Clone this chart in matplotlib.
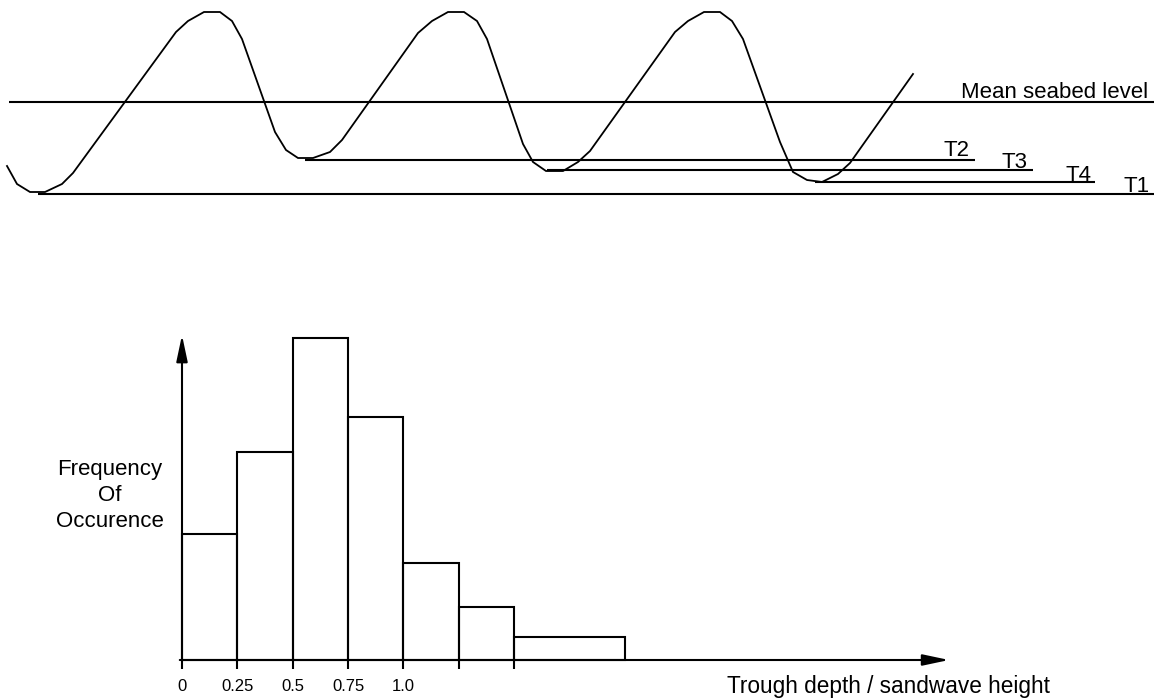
"""Sandwave trough depths: profile sketch and histogram of trough depth / sandwave height."""

import matplotlib
matplotlib.use("Agg")
import matplotlib.pyplot as plt

plt.rcParams["font.family"] = ["Liberation Sans", "DejaVu Sans"]

# --- profile data (distance along section, elevation relative to mean seabed) ---
profile_x = [7, 17, 30, 45, 62, 73, 176, 188, 204, 220, 232, 242, 275, 286, 298, 313,
             330, 342, 418, 432, 448, 464, 477, 487, 523, 533, 546, 563, 578, 590, 675,
             688, 704, 720, 732, 743, 780, 793, 807, 822, 838, 850, 913]
profile_z = [-64, -82, -90, -90, -82, -71, 70, 81, 90, 90, 81, 63, -30, -48, -56, -56,
             -50, -38, 69, 81, 90, 90, 81, 63, -42, -60, -69, -69, -60, -49, 70,
             81, 90, 90, 81, 63, -40, -70, -78, -80, -72, -61, 28]

level_names = ["Mean seabed level", "T2", "T3", "T4", "T1"]
level_z = [0, -58, -68, -80, -92]
level_x0 = [9, 305, 547, 815, 38]
level_x1 = [1154, 975, 1033, 1095, 1154]
label_x = [1148, 970, 1028, 1092, 1150]
label_z = [4, -54, -66, -79, -90]

# --- histogram data ---
bin_edges = [0, 0.25, 0.5, 0.75, 1.0, 1.25, 1.5, 2.0]
frequency = [39, 64.5, 100, 75.5, 30, 16.5, 7]
tick_labels = ["0", "0.25", "0.5", "0.75", "1.0", "", ""]

W, H = 1154, 699
fig = plt.figure(figsize=(W / 100, H / 100), dpi=100)

# top: profile sketch, one unit = one pixel
ax1 = fig.add_axes([0, 0, 1, 1])
ax1.set_xlim(0, W)
ax1.set_ylim(102 - H, 102)
ax1.axis("off")
ax1.plot(profile_x, profile_z, color="black", lw=1.3, solid_joinstyle="miter")
ax1.hlines(level_z, level_x0, level_x1, color="black", lw=1.5)
for name, x, z in zip(level_names, label_x, label_z):
    ax1.text(x, z, name, ha="right", va="baseline", fontsize=16)

# bottom: histogram
px_per_unit = 221.5
px_per_freq = 3.22
x0_px, y0_px = 182, 660
ax2 = fig.add_axes([0, 0, 1, 1])
ax2.patch.set_visible(False)
ax2.set_xlim(-x0_px / px_per_unit, (W - x0_px) / px_per_unit)
ax2.set_ylim(-(H - y0_px) / px_per_freq, y0_px / px_per_freq)

widths = [b - a for a, b in zip(bin_edges[:-1], bin_edges[1:])]
ax2.bar(bin_edges[:-1], frequency, width=widths, align="edge",
        fill=False, edgecolor="black", lw=1.5)

arrow = dict(arrowstyle="-|>,head_length=0.8,head_width=0.17", mutation_scale=20,
             color="black", lw=1.5, shrinkA=0, shrinkB=0)
ax2.annotate("", xy=(0, 100.9), xytext=(0, 0), arrowprops=arrow)
ax2.annotate("", xy=(3.463, 0), xytext=(-0.01, 0), arrowprops=arrow)

for side in ["top", "right", "left", "bottom"]:
    ax2.spines[side].set_visible(False)
ax2.spines["bottom"].set_position(("data", 0))
ax2.set_xticks(bin_edges[:-1])
ax2.set_xticklabels(tick_labels, fontsize=12)
ax2.tick_params(axis="x", direction="out", length=6.5, width=1.5, pad=7)
ax2.set_yticks([])

ax2.text(-0.325, 51, "Frequency\nOf\nOccurence", ha="center", va="center",
         multialignment="center", fontsize=16, linespacing=1.3)
ax2.text((727 - x0_px) / px_per_unit, -(693 - y0_px) / px_per_freq,
         "Trough depth / sandwave height", ha="left", va="baseline", fontsize=16.3)

fig.savefig("out.png", dpi=100)
